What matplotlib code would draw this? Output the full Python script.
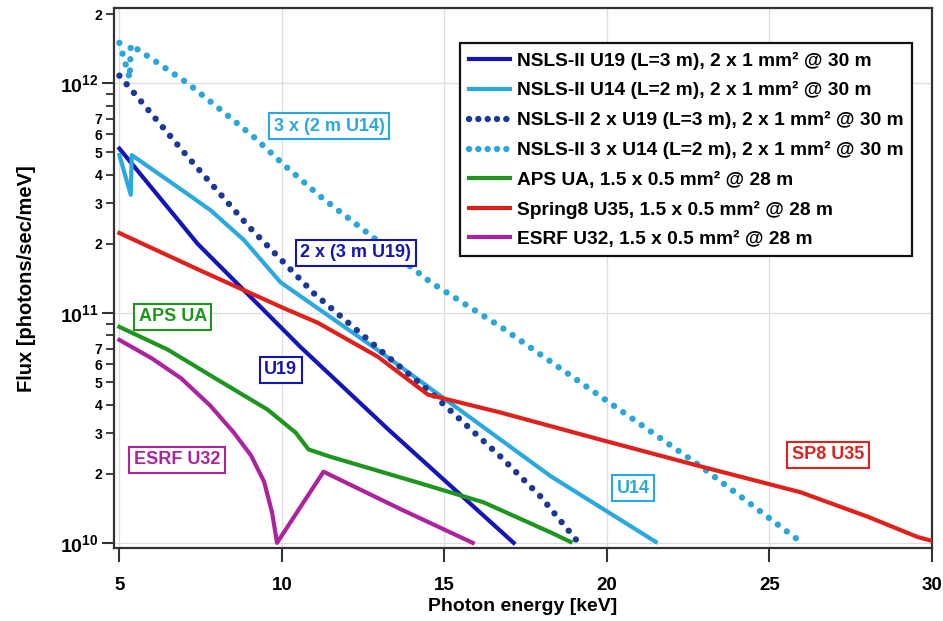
import matplotlib
matplotlib.use("Agg")
import matplotlib.pyplot as plt
from matplotlib import font_manager
from matplotlib.ticker import FixedLocator, FixedFormatter, NullLocator

# ---------------- data ----------------
u19_e = [5.0, 7.41, 10.58, 13.29, 17.13]
u19_f = [5.2e11, 2.0e11, 7.1e10, 3.1e10, 1.0e10]

u14_e = [5.0, 5.35, 5.38, 6.8, 7.81, 8.83, 9.96, 12.95, 18.27, 21.5]
u14_f = [4.87e11, 3.27e11, 4.87e11, 3.53e11, 2.8e11, 2.08e11, 1.36e11, 6.9e10, 1.95e10, 1.01e10]

u19x2_e = [5.0, 7.10, 8.98, 10.98, 13.26, 14.58, 16.73, 17.96, 19.13]
u19x2_f = [1.08e12, 4.79e11, 2.38e11, 1.22e11, 6.46e10, 4.51e10, 2.37e10, 1.59e10, 1.0e10]

u14x3_e = [5.0, 5.32, 5.35, 6.06, 7.10, 8.12, 9.13, 10.06, 11.19, 12.95, 14.58, 16.73, 19.81, 22.89, 25.96]
u14x3_f = [1.50e12, 1.05e12, 1.47e12, 1.26e12, 1.00e12, 7.66e11, 5.85e11, 4.42e11, 3.21e11,
           2.06e11, 1.36e11, 8.72e10, 4.33e10, 2.15e10, 1.01e10]

aps_e = [5.0, 6.49, 8.02, 9.56, 10.42, 10.82, 11.49, 14.18, 16.21, 18.27, 18.88]
aps_f = [8.71e10, 6.93e10, 5.13e10, 3.80e10, 3.02e10, 2.55e10, 2.37e10, 1.83e10, 1.50e10, 1.11e10, 1.01e10]

sp8_e = [5.0, 7.50, 10.06, 11.10, 12.95, 14.49, 16.73, 19.81, 22.89, 25.96, 28.02, 29.56, 30.0]
sp8_f = [2.23e11, 1.53e11, 1.05e11, 9.08e10, 6.46e10, 4.42e10, 3.69e10, 2.81e10, 2.15e10,
         1.66e10, 1.30e10, 1.06e10, 1.02e10]

esrf_e = [5.0, 6.0, 6.9, 7.8, 8.52, 9.05, 9.45, 9.70, 9.85, 11.28, 13.66, 15.87]
esrf_f = [7.64e10, 6.35e10, 5.2e10, 3.95e10, 3.02e10, 2.40e10, 1.85e10, 1.35e10, 1.0e10, 2.04e10, 1.40e10, 1.0e10]

legend_labels = [
    "NSLS-II U19 (L=3 m), 2 x 1 mm\u00b2 @ 30 m",
    "NSLS-II U14 (L=2 m), 2 x 1 mm\u00b2 @ 30 m",
    "NSLS-II 2 x U19 (L=3 m), 2 x 1 mm\u00b2 @ 30 m",
    "NSLS-II 3 x U14 (L=2 m), 2 x 1 mm\u00b2 @ 30 m",
    "APS UA, 1.5 x 0.5 mm\u00b2 @ 28 m",
    "Spring8 U35, 1.5 x 0.5 mm\u00b2 @ 28 m",
    "ESRF U32, 1.5 x 0.5 mm\u00b2 @ 28 m",
]

annot_text = ["3 x (2 m U14)", "2 x (3 m U19)", "APS UA", "U19", "ESRF U32", "U14", "SP8 U35"]
annot_x = [11.45, 12.27, 6.64, 9.96, 6.77, 20.8, 26.8]
annot_y = [6.5e11, 1.83e11, 9.64e10, 5.67e10, 2.30e10, 1.73e10, 2.42e10]

xticks = [5, 10, 15, 20, 25, 30]
xtick_labels = ["5", "10", "15", "20", "25", "30"]
yticks_major = [1e10, 1e11, 1e12]
ytick_major_labels = [r"$\mathbf{10^{10}}$", r"$\mathbf{10^{11}}$", r"$\mathbf{10^{12}}$"]
yticks_minor = [2e10, 3e10, 4e10, 5e10, 6e10, 7e10, 8e10, 9e10,
                2e11, 3e11, 4e11, 5e11, 6e11, 7e11, 8e11, 9e11, 2e12]
ytick_minor_labels = ["2", "3", "4", "5", "6", "7", "", "",
                      "2", "3", "4", "5", "6", "7", "", "", "2"]

# ---------------- style ----------------
C_U19 = "#1414b8"
C_U14 = "#2aa8e0"
C_U19x2 = "#1c3896"
C_U14x3 = "#2ba6da"
C_APS = "#1e961e"
C_SP8 = "#e0211b"
C_ESRF = "#ad239e"

FONT = "Liberation Sans"
try:
    font_manager.findfont("Liberation Sans Narrow", fallback_to_default=False)
    NARROW = "Liberation Sans Narrow"
except Exception:
    NARROW = "Liberation Sans"

plt.rcParams["font.family"] = [FONT, "DejaVu Sans"]
plt.rcParams["font.weight"] = "bold"
plt.rcParams["mathtext.fontset"] = "custom"
plt.rcParams["mathtext.rm"] = FONT + ":bold"
plt.rcParams["mathtext.bf"] = FONT + ":bold"
plt.rcParams["mathtext.it"] = FONT + ":bold"

fig = plt.figure(figsize=(9.43, 6.21), dpi=100)
ax = fig.add_axes([0.1204, 0.1176, 0.9883 - 0.1204, 0.9866 - 0.1176])

solid_lw = 3.0
dot_lw = 4.6
dots = (0, (0.01, 1.75))

ax.plot(u19_e, u19_f, color=C_U19, lw=solid_lw, label=legend_labels[0], zorder=3)
ax.plot(u14_e, u14_f, color=C_U14, lw=solid_lw, label=legend_labels[1], zorder=3)
ax.plot(u19x2_e, u19x2_f, color=C_U19x2, lw=dot_lw, ls=dots, dash_capstyle="round",
        label=legend_labels[2], zorder=3)
ax.plot(u14x3_e, u14x3_f, color=C_U14x3, lw=dot_lw, ls=dots, dash_capstyle="round",
        label=legend_labels[3], zorder=3)
ax.plot(aps_e, aps_f, color=C_APS, lw=solid_lw, label=legend_labels[4], zorder=3)
ax.plot(sp8_e, sp8_f, color=C_SP8, lw=solid_lw, label=legend_labels[5], zorder=3)
ax.plot(esrf_e, esrf_f, color=C_ESRF, lw=solid_lw, label=legend_labels[6], zorder=3)

ax.set_yscale("log")
ax.set_xlim(4.82, 30.0)
ax.set_ylim(9.5e9, 2.12e12)

ax.xaxis.set_major_locator(FixedLocator(xticks))
ax.xaxis.set_major_formatter(FixedFormatter(xtick_labels))
ax.xaxis.set_minor_locator(NullLocator())
ax.yaxis.set_major_locator(FixedLocator(yticks_major))
ax.yaxis.set_major_formatter(FixedFormatter(ytick_major_labels))
ax.yaxis.set_minor_locator(FixedLocator(yticks_minor))
ax.yaxis.set_minor_formatter(FixedFormatter(ytick_minor_labels))

ax.tick_params(axis="x", which="major", direction="out", length=10, width=1.5,
               color="#333333", labelsize=13.5, pad=11)
ax.tick_params(axis="y", which="major", direction="out", length=9, width=1.5,
               color="#333333", labelsize=14, pad=2)
ax.tick_params(axis="y", which="minor", direction="out", length=6, width=1.3,
               color="#333333", labelsize=10, pad=2)
for lab in ax.get_xticklabels() + ax.get_yticklabels() + ax.get_yticklabels(minor=True):
    lab.set_fontweight("bold")

for s in ax.spines.values():
    s.set_color("#333333")
    s.set_linewidth(1.6)

ax.grid(True, which="major", color="#dedede", lw=0.9, zorder=0)

ax.set_xlabel("Photon energy [keV]", fontsize=14, fontweight="bold", labelpad=3)
ax.set_ylabel("Flux [photons/sec/meV]", fontsize=14.5, fontweight="bold", labelpad=17)

annot_colors = [C_U14, C_U19, C_APS, C_U19, C_ESRF, C_U14, C_SP8]
for t, x, y, c in zip(annot_text, annot_x, annot_y, annot_colors):
    ax.text(x, y, t, color=c, fontsize=13, fontweight="bold", family=[NARROW, "DejaVu Sans"],
            ha="center", va="center", zorder=5,
            bbox=dict(boxstyle="square,pad=0.25", fc="white", ec=c, lw=1.5))

leg = ax.legend(loc="upper right", bbox_to_anchor=(0.976, 0.936), borderaxespad=0,
                fontsize=13.8, handlelength=2.15, handletextpad=0.36, labelspacing=0.62,
                borderpad=0.45, frameon=True, fancybox=False, framealpha=1)
leg.get_frame().set_edgecolor("#111111")
leg.get_frame().set_linewidth(1.6)
for txt in leg.get_texts():
    txt.set_fontweight("bold")
for h in leg.get_lines()[2:4]:
    h.set_linestyle((0, (0.01, 1.45)))
leg.set_zorder(6)

fig.savefig("out.png", dpi=100)
